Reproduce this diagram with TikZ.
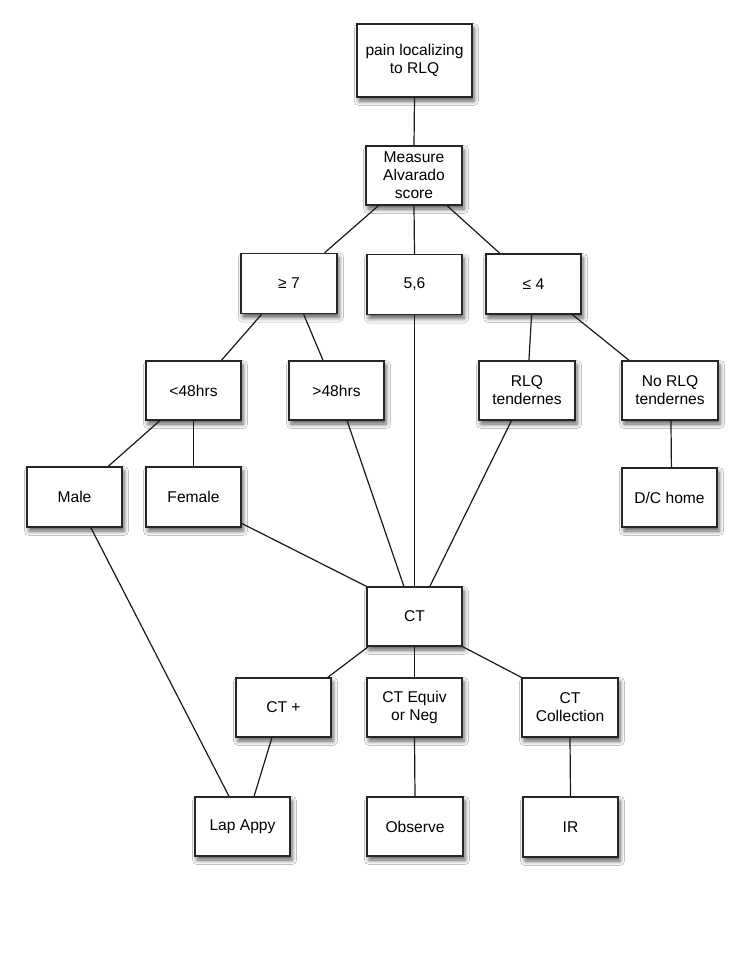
\documentclass[tikz,border=0pt]{standalone}
\usepackage{fontspec}
\setmainfont{Liberation Sans}
\usetikzlibrary{calc,shadows.blur}
\begin{document}
\begin{tikzpicture}[x=1pt,y=-1pt,
  box/.style={draw=black!85, line width=1.4pt, fill=white, rectangle, inner sep=0pt,
    minimum width=95pt, minimum height=59pt, align=center,
    font=\fontsize{15.6}{18}\selectfont,
    blur shadow={shadow xshift=2pt, shadow yshift=-4pt, shadow blur radius=4.5pt, shadow opacity=65}},
  conn/.style={draw=black!90, line width=1.2pt}]
\useasboundingbox[fill=white] (0,0) rectangle (743,962);
% nodes
\node[box, minimum width=115pt, minimum height=73pt] (pain) at (414.5,60.5) {pain localizing\\to RLQ};
\node[box, minimum width=96pt] (meas) at (414,175.5) {Measure\\Alvarado\\score};
\node[box, minimum width=96pt, minimum height=60pt] (ge7) at (289,283.5) {≥ 7};
\node[box, minimum height=60pt] (n56) at (414.5,284.5) {5,6};
\node[box, minimum height=60pt] (le4) at (533.5,284) {≤ 4};
\node[box] (lt48) at (193.5,390.5) {<48hrs};
\node[box] (gt48) at (336.5,390.5) {>48hrs};
\node[box, minimum width=96pt] (rlq) at (527,390.5) {RLQ\\tendernes};
\node[box, minimum width=96pt] (norlq) at (670,390.5) {No RLQ\\tendernes};
\node[box, minimum height=60pt] (male) at (74.5,497) {Male};
\node[box, minimum height=60pt] (female) at (193.5,497) {Female};
\node[box] (dc) at (669.5,497.5) {D/C home};
\node[box] (ct) at (414.5,616.5) {CT};
\node[box] (ctp) at (283.5,707.5) {CT +};
\node[box] (eq) at (414.5,707.5) {CT Equiv\\or Neg};
\node[box, minimum width=96pt] (coll) at (570,707.5) {CT\\Collection};
\node[box] (lap) at (242.5,826.5) {Lap Appy};
\node[box, minimum width=96pt] (obs) at (415,826.5) {Observe};
\node[box, minimum height=60pt] (ir) at (570.5,827) {IR};
% connectors
\path[conn] (pain.south) -- (meas.north);
\path[conn] ($(meas.south west)!0.135!(meas.south east)$) -- ($(ge7.north west)!0.865!(ge7.north east)$);
\path[conn] (meas.south) -- (n56.north);
\path[conn] ($(meas.south west)!0.84!(meas.south east)$) -- ($(le4.north west)!0.15!(le4.north east)$);
\path[conn] ($(ge7.south west)!0.22!(ge7.south east)$) -- ($(lt48.north west)!0.79!(lt48.north east)$);
\path[conn] ($(ge7.south west)!0.65!(ge7.south east)$) -- ($(gt48.north west)!0.36!(gt48.north east)$);
\path[conn] ($(le4.south west)!0.48!(le4.south east)$) -- ($(rlq.north west)!0.52!(rlq.north east)$);
\path[conn] ($(le4.south west)!0.905!(le4.south east)$) -- ($(norlq.north west)!0.08!(norlq.north east)$);
\path[conn] ($(lt48.south west)!0.15!(lt48.south east)$) -- ($(male.north west)!0.85!(male.north east)$);
\path[conn] (lt48.south) -- (female.north);
\path[conn] ($(norlq.south west)!0.51!(norlq.south east)$) -- ($(dc.north west)!0.52!(dc.north east)$);
\path[conn] ($(female.south east)!0.07!(female.north east)$) -- (ct.north west);
\path[conn] ($(gt48.south west)!0.61!(gt48.south east)$) -- ($(ct.north west)!0.39!(ct.north east)$);
\path[conn] (n56.south) -- (ct.north);
\path[conn] ($(rlq.south west)!0.34!(rlq.south east)$) -- ($(ct.north west)!0.66!(ct.north east)$);
\path[conn] ($(male.south west)!0.67!(male.south east)$) -- ($(lap.north west)!0.36!(lap.north east)$);
\path[conn] ($(ctp.south west)!0.38!(ctp.south east)$) -- ($(lap.north west)!0.62!(lap.north east)$);
\path[conn] ($(ct.south west)!0.02!(ct.south east)$) -- ($(ctp.north west)!0.96!(ctp.north east)$);
\path[conn] (ct.south) -- (eq.north);
\path[conn] (ct.south east) -- (coll.north west);
\path[conn] (eq.south) -- (obs.north);
\path[conn] (coll.south) -- (ir.north);
\end{tikzpicture}
\end{document}
